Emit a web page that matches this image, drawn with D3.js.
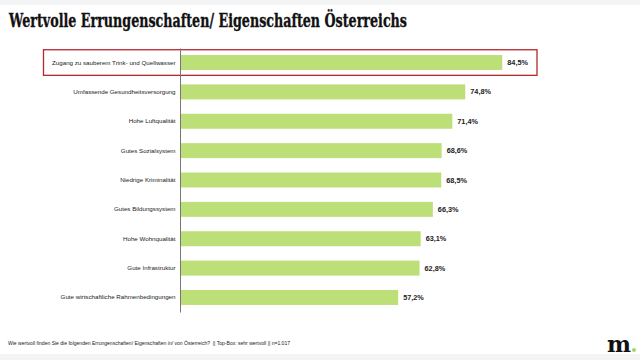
<!DOCTYPE html>
<html><head><meta charset="utf-8">
<script src="https://cdn.jsdelivr.net/npm/d3@7"></script>
<style>html,body{margin:0;padding:0;background:#fff;}svg{display:block;}</style>
</head><body>
<script>
const categories = ["Zugang zu sauberem Trink- und Quellwasser","Umfassende Gesundheitsversorgung","Hohe Luftqualität","Gutes Sozialsystem","Niedrige Kriminalität","Gutes Bildungssystem","Hohe Wohnqualität","Gute Infrastruktur","Gute wirtschaftliche Rahmenbedingungen"];
const values = [84.5,74.8,71.4,68.6,68.5,66.3,63.1,62.8,57.2];
const valueLabels = ["84,5%","74,8%","71,4%","68,6%","68,5%","66,3%","63,1%","62,8%","57,2%"];
const highlighted = ["Zugang zu sauberem Trink- und Quellwasser"];
const title = "Wertvolle Errungenschaften/ Eigenschaften Österreichs";
const footnote = "Wie wertvoll finden Sie die folgenden Errungenschaften/ Eigenschaften in/ von Österreich?  || Top-Box: sehr wertvoll || n=1.017";

const W=640,H=360;
const svg=d3.select("body").append("svg").attr("width",W).attr("height",H);
svg.append("rect").attr("x",0).attr("y",0).attr("width",W).attr("height",5).attr("fill","#f3f4f6");
svg.append("rect").attr("x",0).attr("y",354).attr("width",W).attr("height",6).attr("fill","#f3f4f6");

svg.append("text").attr("x",9).attr("y",27).text(title)
  .attr("font-family","'DejaVu Serif', serif").attr("font-weight","bold")
  .attr("font-size",19).attr("textLength",398).attr("lengthAdjust","spacingAndGlyphs").attr("fill","#111")
  .attr("stroke","#111").attr("stroke-width",0.35);

const x=d3.scaleLinear().domain([0,100]).range([180,561.4]);
const y=d3.scaleBand().domain(categories).range([48,312]).paddingInner(0.49).paddingOuter(0.24);

// highlight box
highlighted.forEach(c=>{
  svg.append("rect").attr("x",43.5).attr("y",y(c)+y.bandwidth()/2-12.8).attr("width",493.5).attr("height",25.6)
    .attr("fill","none").attr("stroke","#b5272d").attr("stroke-width",1.3);
});

svg.selectAll("rect.bar").data(values).join("rect").attr("class","bar")
  .attr("x",x(0)).attr("y",(d,i)=>y(categories[i])).attr("width",d=>x(d)-x(0)).attr("height",y.bandwidth())
  .attr("fill","#bddf78");

svg.selectAll("text.val").data(values).join("text").attr("class","val")
  .attr("x",d=>x(d)+5).attr("y",(d,i)=>y(categories[i])+y.bandwidth()/2).attr("dy","0.35em")
  .text((d,i)=>valueLabels[i]).attr("font-family","Arial, 'Liberation Sans', sans-serif").attr("font-weight","bold")
  .attr("font-size",7.3).attr("fill","#222");

const axis=svg.append("g").attr("transform",`translate(${x(0)},0)`)
  .call(d3.axisLeft(y).tickSize(0).tickPadding(4.5));
axis.select(".domain").attr("stroke","#777").attr("stroke-width",1);
axis.selectAll("text").attr("font-family","Arial, 'Liberation Sans', sans-serif").attr("font-size",6.2).attr("fill","#222");

svg.append("text").attr("x",8).attr("y",345).text(footnote)
  .attr("font-family","Arial, 'Liberation Sans', sans-serif").attr("font-size",5.4).attr("fill","#222")
  .attr("xml:space","preserve").attr("textLength",282).attr("lengthAdjust","spacingAndGlyphs");

svg.append("text").attr("x",607).attr("y",352).text("m")
  .attr("font-family","'DejaVu Serif', serif").attr("font-weight","bold").attr("font-size",22).attr("fill","#111")
  .attr("textLength",24).attr("lengthAdjust","spacingAndGlyphs");
svg.append("circle").attr("cx",634).attr("cy",350).attr("r",2).attr("fill","#a8d36b");
</script>
</body></html>
